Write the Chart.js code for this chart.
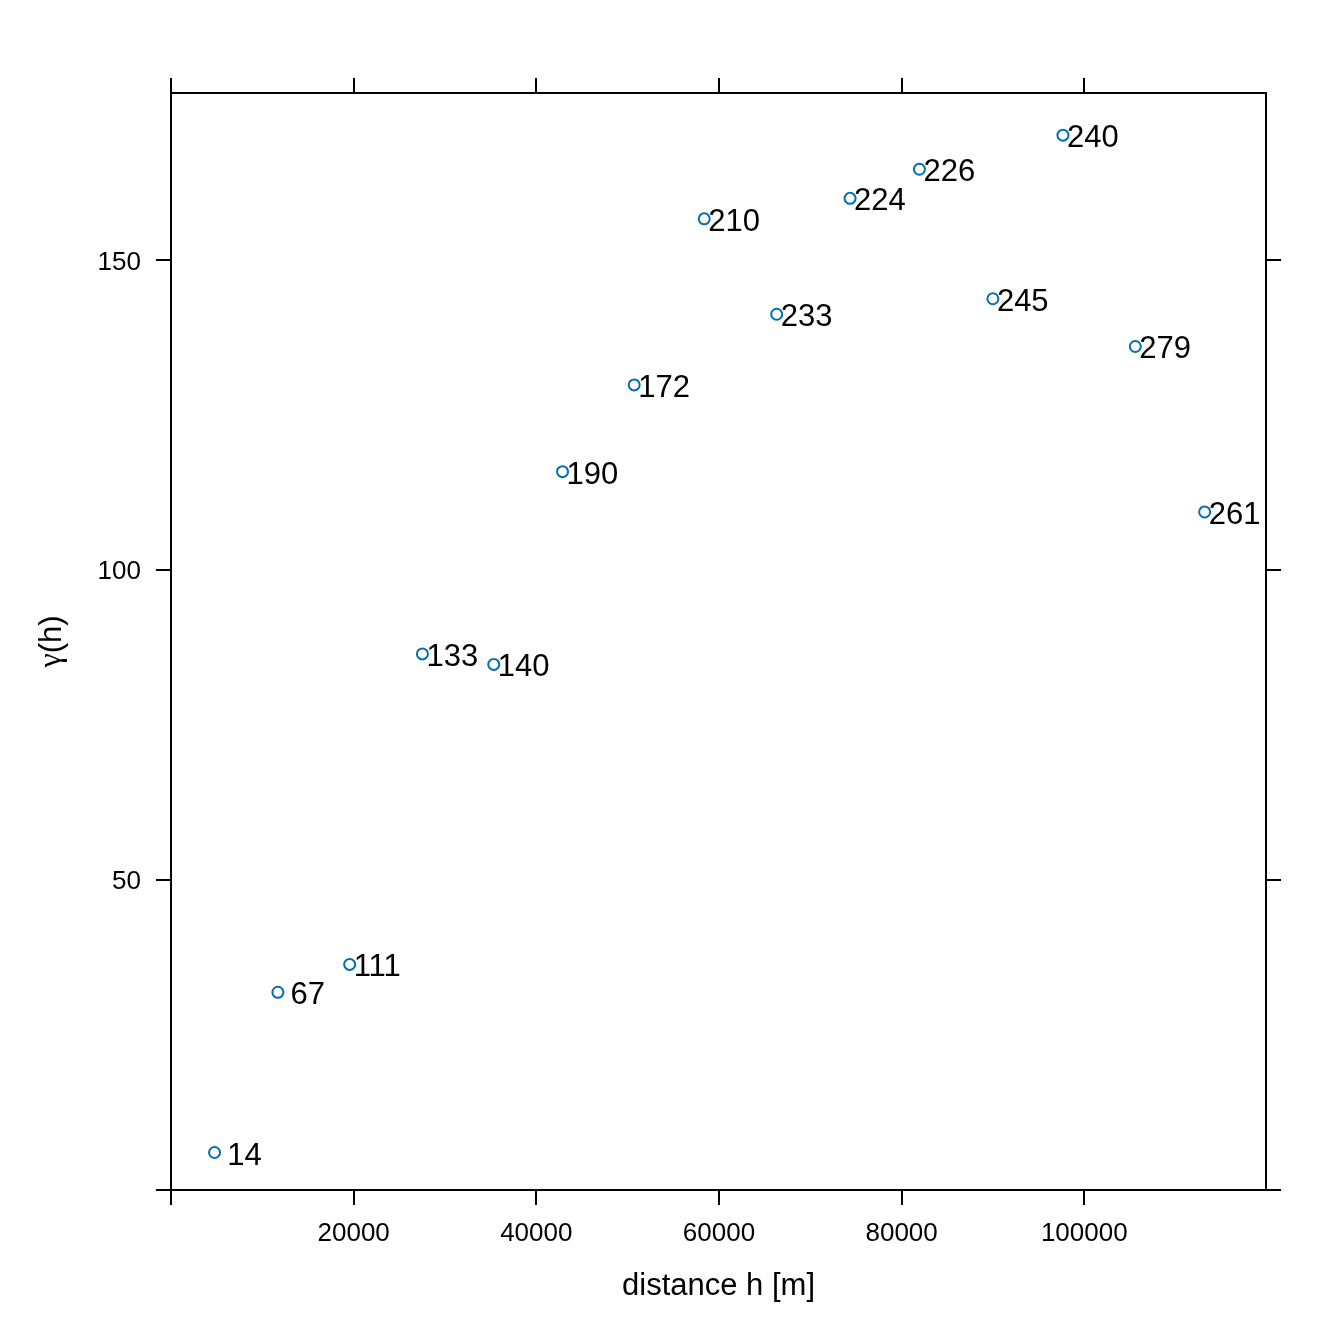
<!DOCTYPE html>
<html>
<head>
<meta charset="utf-8">
<script src="https://cdn.jsdelivr.net/npm/chart.js@4.4.1/dist/chart.umd.min.js"></script>
<style>
  body { margin: 0; background: #fff; }
  #wrap { width: 1344px; height: 1344px; }
</style>
</head>
<body>
<div id="wrap"><canvas id="vgm" width="1344" height="1344"></canvas></div>
<script>
// sample variogram: distance, semivariance and number of point pairs
const dist = [4767, 11704, 19562, 27529, 35342, 42871, 50718, 58389, 66323, 74356, 81951, 89995, 97666, 105589, 113184];
const gamma = [6.05, 31.9, 36.4, 86.5, 84.8, 115.9, 129.9, 156.7, 141.3, 160.0, 164.7, 143.8, 170.2, 136.1, 109.4];
const npairs = [14, 67, 111, 133, 140, 190, 172, 210, 233, 224, 226, 245, 240, 279, 261];

const xTicks = [0, 20000, 40000, 60000, 80000, 100000];
const yTicks = [0, 50, 100, 150];
const xRange = [0, 119900];
const yRange = [0, 177];

const SANS = '"Liberation Sans", Arial, sans-serif';
const SERIF = '"Liberation Serif", "DejaVu Serif", serif';

function axis(pos, vals, range, showLabels, size) {
    const vertical = (pos === 'left' || pos === 'right');
    return {
        type: 'linear',
        position: pos,
        min: range[0],
        max: range[1],
        afterBuildTicks: s => { s.ticks = vals.map(v => ({ value: v })); },
        afterFit: s => {
            if (vertical) s.width = size; else s.height = size;
        },
        grid: { drawOnChartArea: false, drawTicks: true, tickLength: 15, color: '#000', lineWidth: 2 },
        border: { display: true, color: '#000', width: 2 },
        ticks: {
            color: '#000',
            font: { family: SANS, size: 26 },
            padding: vertical ? 15 : 13,
            labelOffset: vertical ? 2 : 0,
            maxRotation: 0,
            autoSkip: false,
            callback: v => (showLabels && v !== 0) ? String(v) : ''
        }
    };
}

// point labels and axis titles
const annotate = {
    id: 'annotate',
    afterDatasetsDraw(chart) {
        const ctx = chart.ctx;
        const xs = chart.scales.x, ys = chart.scales.y;
        ctx.save();
        ctx.fillStyle = '#000';
        ctx.font = '31px ' + SANS;
        ctx.textAlign = 'left';
        ctx.textBaseline = 'alphabetic';
        for (let i = 0; i < dist.length; i++) {
            const px = xs.getPixelForValue(dist[i]);
            const py = ys.getPixelForValue(gamma[i]);
            ctx.fillText(String(npairs[i]).padStart(3, ' '), px + 4, py + 12);
        }
        // x title
        ctx.textAlign = 'center';
        ctx.textBaseline = 'middle';
        ctx.fillText('distance h [m]', (chart.chartArea.left + chart.chartArea.right) / 2, 1286);
        // y title, rotated, gamma in serif
        ctx.translate(52, (chart.chartArea.top + chart.chartArea.bottom) / 2);
        ctx.rotate(-Math.PI / 2);
        ctx.font = '32px ' + SERIF;
        const g = ctx.measureText('γ').width;
        ctx.font = '31px ' + SANS;
        const r = ctx.measureText('(h)').width;
        const start = -(g + r) / 2;
        ctx.textAlign = 'left';
        ctx.font = '32px ' + SERIF;
        ctx.fillText('γ', start, 0);
        ctx.font = '31px ' + SANS;
        ctx.fillText('(h)', start + g, 0);
        ctx.restore();
    }
};

new Chart(document.getElementById('vgm'), {
    type: 'scatter',
    data: {
        datasets: [{
            data: dist.map((d, i) => ({ x: d, y: gamma[i] })),
            pointStyle: 'circle',
            pointRadius: 5.5,
            pointBorderWidth: 2,
            borderColor: '#0070b0',
            backgroundColor: 'rgba(0,0,0,0)',
            xAxisID: 'x',
            yAxisID: 'y'
        }]
    },
    options: {
        responsive: false,
        animation: false,
        layout: { padding: 0 },
        plugins: { legend: { display: false }, tooltip: { enabled: false } },
        scales: {
            x: axis('bottom', xTicks, xRange, true, 154),
            x2: axis('top', xTicks, xRange, false, 93),
            y: axis('left', yTicks, yRange, true, 171),
            y2: axis('right', yTicks, yRange, false, 78)
        }
    },
    plugins: [annotate]
});
</script>
</body>
</html>
